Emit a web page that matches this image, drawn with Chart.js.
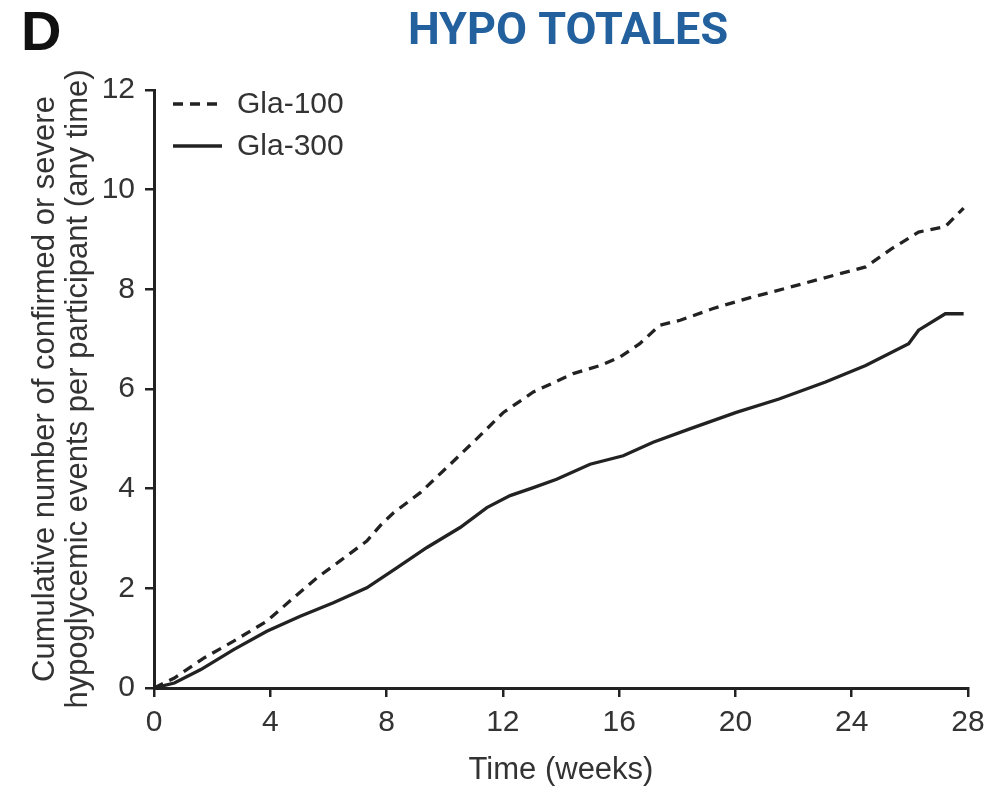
<!DOCTYPE html>
<html>
<head>
<meta charset="utf-8">
<script src="https://cdn.jsdelivr.net/npm/chart.js@4/dist/chart.umd.min.js"></script>
<style>
  html, body { margin: 0; padding: 0; background: #fff; }
  #wrap { width: 1003px; height: 789px; position: relative; }
</style>
</head>
<body>
<div id="wrap"><canvas id="myChart" width="1003" height="789"></canvas></div>
<script>
// weeks + cumulative events
var gla100Weeks = [0, 0.7, 1.71, 2.74, 3.88, 4.8, 5.6, 6.4, 7.32, 7.83, 8.25, 9.16, 10.19, 11.1, 12.02, 13.05, 14.42, 15.34, 16.03, 16.71, 17.4, 18.1, 19.21, 20.36, 21.73, 22.99, 24.48, 25.39, 26.3, 27.22, 27.56, 27.85];
var gla100Values = [0, 0.2, 0.6, 0.94, 1.34, 1.81, 2.21, 2.55, 2.95, 3.29, 3.52, 3.92, 4.49, 5.0, 5.53, 5.94, 6.31, 6.47, 6.64, 6.91, 7.28, 7.38, 7.61, 7.81, 8.02, 8.22, 8.45, 8.82, 9.15, 9.26, 9.46, 9.63];

var gla300Weeks = [0, 0.7, 1.61, 2.74, 3.88, 5.03, 6.17, 7.32, 8.35, 9.39, 10.53, 11.45, 12.25, 13.05, 13.85, 15.0, 16.14, 17.17, 18.43, 20.03, 21.5, 23.1, 24.48, 25.96, 26.3, 27.22, 27.85];
var gla300Values = [0, 0.1, 0.37, 0.77, 1.14, 1.44, 1.71, 2.01, 2.41, 2.82, 3.22, 3.62, 3.86, 4.02, 4.19, 4.49, 4.66, 4.93, 5.2, 5.53, 5.8, 6.14, 6.47, 6.91, 7.18, 7.51, 7.51];

var seriesLabels = ['Gla-100', 'Gla-300'];
var xTicks = [0, 4, 8, 12, 16, 20, 24, 28];
var yTicks = [0, 2, 4, 6, 8, 10, 12];

var ink = '#222';
var textCol = '#333';
var fontFam = "'Liberation Sans', Arial, sans-serif";

function toPoints(xs, ys) {
  return xs.map(function (x, i) { return { x: x, y: ys[i] }; });
}

// title, panel letter and legend drawn straight on the canvas
var extras = {
  id: 'extras',
  afterDraw: function (chart) {
    var ctx = chart.ctx;
    ctx.save();
    ctx.fillStyle = '#111';
    ctx.font = "bold 56px 'Liberation Sans', Arial, sans-serif";
    ctx.textBaseline = 'alphabetic';
    ctx.textAlign = 'left';
    ctx.fillText('D', 21, 50);

    ctx.fillStyle = '#23609e';
    ctx.font = "bold 45px Roboto, 'Liberation Sans', sans-serif";
    ctx.textAlign = 'center';
    ctx.fillText('HYPO TOTALES', 568, 44);

    // legend
    var rows = [104, 146];
    chart.data.datasets.forEach(function (ds, i) {
      ctx.beginPath();
      ctx.strokeStyle = ink;
      ctx.lineWidth = 3.3;
      ctx.setLineDash(ds.borderDash || []);
      ctx.moveTo(173, rows[i]);
      ctx.lineTo(222, rows[i]);
      ctx.stroke();
      ctx.setLineDash([]);
      ctx.fillStyle = textCol;
      ctx.font = '30px ' + fontFam;
      ctx.textAlign = 'left';
      ctx.textBaseline = 'middle';
      ctx.fillText(ds.label, 237, rows[i] + 1);
    });
    ctx.restore();
  }
};

var ctx = document.getElementById('myChart').getContext('2d');
var myChart = new Chart(ctx, {
  type: 'line',
  data: {
    datasets: [
      {
        label: seriesLabels[0],
        data: toPoints(gla100Weeks, gla100Values),
        borderColor: ink,
        borderWidth: 3.3,
        borderDash: [10, 7],
        pointRadius: 0,
        tension: 0,
        fill: false
      },
      {
        label: seriesLabels[1],
        data: toPoints(gla300Weeks, gla300Values),
        borderColor: ink,
        borderWidth: 3.3,
        pointRadius: 0,
        tension: 0,
        fill: false
      }
    ]
  },
  options: {
    responsive: false,
    animation: false,
    layout: { padding: { top: 90, right: 35, left: 0, bottom: 0 } },
    plugins: {
      legend: { display: false },
      tooltip: { enabled: false }
    },
    scales: {
      x: {
        type: 'linear',
        min: 0,
        max: 28,
        afterBuildTicks: function (s) { s.ticks = xTicks.map(function (v) { return { value: v }; }); },
        afterFit: function (s) { s.height = 101; },
        ticks: { color: textCol, font: { family: fontFam, size: 30 }, padding: 8, maxRotation: 0 },
        grid: { drawOnChartArea: false, drawTicks: true, tickLength: 9, color: ink, lineWidth: 2.5 },
        border: { display: true, color: ink, width: 3 },
        title: {
          display: true,
          text: 'Time (weeks)',
          color: textCol,
          font: { family: fontFam, size: 31 },
          padding: { top: 0, bottom: 0 }
        }
      },
      y: {
        type: 'linear',
        min: 0,
        max: 12,
        afterBuildTicks: function (s) { s.ticks = yTicks.map(function (v) { return { value: v }; }); },
        afterFit: function (s) { s.width = 154; },
        ticks: { color: textCol, font: { family: fontFam, size: 30 }, padding: 10 },
        grid: { drawOnChartArea: false, drawTicks: true, tickLength: 9, color: ink, lineWidth: 2.5 },
        border: { display: true, color: ink, width: 3 },
        title: {
          display: true,
          text: ['Cumulative number of confirmed or severe', 'hypoglycemic events per participant (any time)'],
          color: textCol,
          font: { family: fontFam, size: 31, lineHeight: 1.065 },
          padding: { top: 29, bottom: 0 }
        }
      }
    }
  },
  plugins: [extras]
});
</script>
</body>
</html>
